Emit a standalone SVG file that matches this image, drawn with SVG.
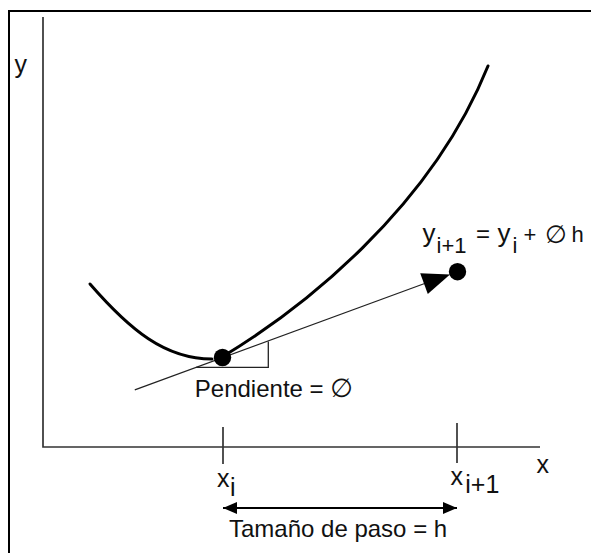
<svg xmlns="http://www.w3.org/2000/svg" width="591" height="553" viewBox="0 0 591 553">
<style>
text{font-family:"Liberation Sans","DejaVu Sans",Arial,sans-serif;fill:#111}
.ax{stroke:#333;stroke-width:1.7;fill:none}
.thin{stroke:#222;stroke-width:1.3;fill:none}
.big{font-size:25px}
.mid{font-size:24px}
.eq{font-size:22px}
.dot{fill:#000}
</style>
<defs>
<marker id="ah" viewBox="0 0 14 12" refX="14" refY="6" markerWidth="14" markerHeight="12" markerUnits="userSpaceOnUse" orient="auto-start-reverse">
<path d="M0,0 L14,6 L0,12 z" fill="#000"/>
</marker>
</defs>
<rect width="591" height="553" fill="#fff"/>
<g id="frame"><rect x="9" y="11" width="620" height="600" fill="none" stroke="#000" stroke-width="2"/></g>
<g id="axes">
<polyline class="ax" points="43,17 43,447 540,447"/>
<line class="ax" x1="223" y1="427" x2="223" y2="464"/>
<line class="ax" x1="457" y1="423" x2="457" y2="463"/>
<text class="big" x="14.5" y="73">y</text>
<text class="big" x="536.5" y="472.5">x</text>
<text class="big" x="217" y="487">x</text>
<text class="big" x="230" y="496">i</text>
<text class="big" x="450.5" y="485">x</text>
<text class="big" x="465.3" y="493">i+1</text>
</g>
<g id="curve">
<path d="M90,284 C130,330 165,359 212,359" fill="none" stroke="#000" stroke-width="3" stroke-linecap="round"/>
<path d="M222,357 C300,310 430,210 488,66" fill="none" stroke="#000" stroke-width="3" stroke-linecap="round"/>
</g>
<g id="connectors">
<line class="thin" x1="134.8" y1="389.8" x2="426" y2="283"/>
<polygon points="420.2,273.3 427.8,293.9 450,274.5" fill="#000"/>
<polyline class="thin" points="196,367.3 268.3,367.3 268.3,341.5"/>
<line x1="223" y1="508" x2="457" y2="508" stroke="#000" stroke-width="2" marker-start="url(#ah)" marker-end="url(#ah)"/>
</g>
<g id="point-i"><circle class="dot" cx="222.5" cy="357.5" r="8.7"/></g>
<g id="point-i1"><circle class="dot" cx="457.5" cy="271.7" r="8.7"/></g>
<g id="labels">
<text class="mid" x="194.8" y="396.7">Pendiente = <tspan style="font-size:26px">∅</tspan></text>
<text class="mid" x="229" y="537">Tamaño de paso = h</text>
<text><tspan x="422.5" y="241.5" style="font-size:26px">y</tspan><tspan class="eq" x="436.5" y="253">i+1</tspan><tspan class="eq" x="476" y="242" style="font-size:24px">=</tspan><tspan x="497.5" y="241.5" style="font-size:26px">y</tspan><tspan class="eq" x="512.5" y="253">i</tspan><tspan class="eq" x="523.5" y="242">+</tspan><tspan x="545" y="243" style="font-size:25px">∅</tspan><tspan class="eq" x="571.5" y="242">h</tspan></text>
</g>
</svg>
